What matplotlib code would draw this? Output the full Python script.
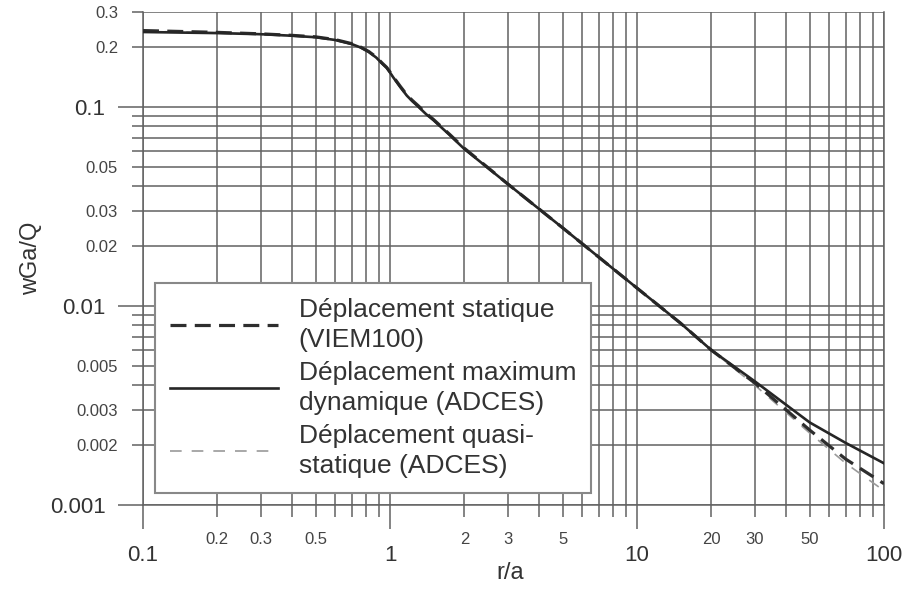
import matplotlib
matplotlib.use("Agg")
import matplotlib.pyplot as plt
from matplotlib.ticker import FixedLocator, FuncFormatter

plt.rcParams['font.family'] = ['Liberation Sans', 'DejaVu Sans']

# ---- data ----
r_a = [0.1, 0.2, 0.3, 0.4, 0.5, 0.6, 0.7, 0.76, 0.82, 0.88, 0.93, 0.97, 1.0, 1.03,
       1.1, 1.17, 1.23, 1.3, 1.4, 1.5, 1.75, 2.0, 3.0, 5.0, 7.0, 10.0, 15.0, 20.0,
       30.0, 50.0, 70.0, 100.0]

static_viem = [0.242, 0.237, 0.233, 0.229, 0.225, 0.218, 0.208, 0.200, 0.190, 0.178,
               0.166, 0.158, 0.150, 0.142, 0.127, 0.115, 0.108, 0.1015, 0.093, 0.0865,
               0.0725, 0.0620, 0.0410, 0.0247, 0.0176, 0.0123, 0.0082, 0.0060,
               0.0041, 0.00238, 0.00170, 0.00128]

dyn_max_adces = [0.238, 0.235, 0.232, 0.228, 0.224, 0.217, 0.207, 0.199, 0.189, 0.177,
                 0.165, 0.157, 0.149, 0.141, 0.126, 0.114, 0.107, 0.1005, 0.092, 0.0858,
                 0.0720, 0.0615, 0.0410, 0.0247, 0.0176, 0.0123, 0.0082, 0.0060,
                 0.00418, 0.00260, 0.00205, 0.00162]

quasi_adces = [0.240, 0.236, 0.232, 0.228, 0.224, 0.217, 0.207, 0.199, 0.189, 0.177,
               0.165, 0.157, 0.149, 0.141, 0.126, 0.114, 0.107, 0.1005, 0.092, 0.0858,
               0.0720, 0.0615, 0.0410, 0.0247, 0.0176, 0.0123, 0.0082, 0.0060,
               0.0040, 0.00230, 0.00162, 0.00118]

labels = ["Déplacement statique\n(VIEM100)",
          "Déplacement maximum\ndynamique (ADCES)",
          "Déplacement quasi-\nstatique (ADCES)"]

x_major = [0.1, 1, 10, 100]
x_minor = [0.2, 0.3, 0.4, 0.5, 0.6, 0.7, 0.8, 0.9,
           2, 3, 4, 5, 6, 7, 8, 9,
           20, 30, 40, 50, 60, 70, 80, 90]
x_minor_labels = {0.2: "0.2", 0.3: "0.3", 0.5: "0.5", 2: "2", 3: "3", 5: "5",
                  20: "20", 30: "30", 50: "50"}
x_major_labels = {0.1: "0.1", 1: "1", 10: "10", 100: "100"}

y_major = [0.001, 0.01, 0.1]
y_minor = [0.002, 0.003, 0.004, 0.005, 0.006, 0.007, 0.008, 0.009,
           0.02, 0.03, 0.04, 0.05, 0.06, 0.07, 0.08, 0.09, 0.2, 0.3]
y_minor_labels = {0.002: "0.002", 0.003: "0.003", 0.005: "0.005",
                  0.02: "0.02", 0.03: "0.03", 0.05: "0.05", 0.2: "0.2", 0.3: "0.3"}
y_major_labels = {0.001: "0.001", 0.01: "0.01", 0.1: "0.1"}

# ---- figure ----
fig = plt.figure(figsize=(9.06, 6.0), dpi=100)
ax = fig.add_axes([143/906, 1-505/600, (884-143)/906, (505-12)/600])

ax.set_xscale('log')
ax.set_yscale('log')
ax.set_xlim(0.1, 100)
ax.set_ylim(0.001, 0.3)

gridc = '#626262'
l1, = ax.plot(r_a, static_viem, color='#2e2e2e', lw=2.3, dashes=(5, 2.6), zorder=4)
l2, = ax.plot(r_a, dyn_max_adces, color='#262626', lw=1.9, zorder=5)
l3, = ax.plot(r_a, quasi_adces, color='#9a9a9a', lw=1.2, dashes=(7, 6), zorder=3)


def lookup(d):
    def f(v, pos):
        for k, s in d.items():
            if abs(v - k) / k < 1e-6:
                return s
        return ""
    return FuncFormatter(f)


ax.xaxis.set_major_locator(FixedLocator(x_major))
ax.xaxis.set_minor_locator(FixedLocator(x_minor))
ax.xaxis.set_major_formatter(lookup(x_major_labels))
ax.xaxis.set_minor_formatter(lookup(x_minor_labels))
ax.yaxis.set_major_locator(FixedLocator(y_major))
ax.yaxis.set_minor_locator(FixedLocator(y_minor))
ax.yaxis.set_major_formatter(lookup(y_major_labels))
ax.yaxis.set_minor_formatter(lookup(y_minor_labels))

ax.grid(True, which='both', color=gridc, lw=1.1, zorder=1)
for s in ax.spines.values():
    s.set_color(gridc)
    s.set_linewidth(1.1)
ax.spines['top'].set_visible(False)

ax.tick_params(axis='y', which='major', length=18, width=1.1, color=gridc,
               labelsize=16, pad=9, labelcolor='#333333')
ax.tick_params(axis='y', which='minor', length=8, width=1.1, color=gridc,
               labelsize=12, pad=10, labelcolor='#444444')
ax.tick_params(axis='x', which='major', length=17, width=1.1, color=gridc,
               labelsize=16, pad=12, labelcolor='#333333')
ax.tick_params(axis='x', which='minor', length=8.5, width=1.1, color=gridc,
               labelsize=12, pad=11, labelcolor='#444444')

ax.set_ylabel("wGa/Q", fontsize=17, color='#333333')
ax.yaxis.set_label_coords((42-143)/741, (505-258)/493)
ax.set_xlabel("r/a", fontsize=17, color='#333333')
ax.xaxis.set_label_coords((510-143)/741, (505-562)/493)

leg = ax.legend([l1, l2, l3], labels, loc='upper left',
                bbox_to_anchor=(155/906, 1-283/600), bbox_transform=fig.transFigure,
                fontsize=19, handlelength=4.1, handletextpad=0.8,
                borderpad=0.55, labelspacing=0.32, borderaxespad=0,
                fancybox=False, framealpha=1, edgecolor='#888888')
leg.get_frame().set_linewidth(1.5)
leg.set_zorder(10)
for t in leg.get_texts():
    t.set_color('#333333')
    t.set_linespacing(1.35)

fig.savefig("out.png", dpi=100)
